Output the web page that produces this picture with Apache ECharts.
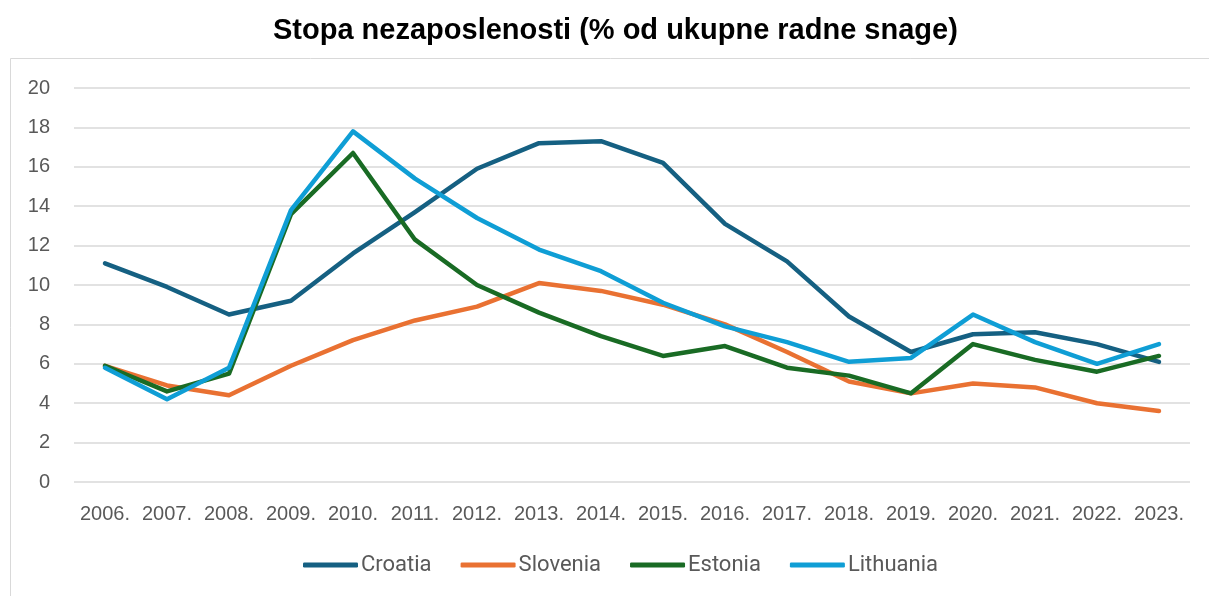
<!DOCTYPE html>
<html>
<head>
<meta charset="utf-8">
<script src="https://cdn.jsdelivr.net/npm/echarts@6/dist/echarts.min.js"></script>
<style>
html,body{margin:0;padding:0;background:#fff;}
#chart{width:1209px;height:596px;}
</style>
</head>
<body>
<div id="chart"></div>
<script>
const categories = ['2006.','2007.','2008.','2009.','2010.','2011.','2012.','2013.','2014.','2015.','2016.','2017.','2018.','2019.','2020.','2021.','2022.','2023.'];
const croatia   = [11.1, 9.9, 8.5, 9.2, 11.6, 13.7, 15.9, 17.2, 17.3, 16.2, 13.1, 11.2, 8.4, 6.6, 7.5, 7.6, 7.0, 6.1];
const slovenia  = [5.9, 4.9, 4.4, 5.9, 7.2, 8.2, 8.9, 10.1, 9.7, 9.0, 8.0, 6.6, 5.1, 4.5, 5.0, 4.8, 4.0, 3.6];
const estonia   = [5.9, 4.6, 5.5, 13.6, 16.7, 12.3, 10.0, 8.6, 7.4, 6.4, 6.9, 5.8, 5.4, 4.5, 7.0, 6.2, 5.6, 6.4];
const lithuania = [5.8, 4.2, 5.8, 13.8, 17.8, 15.4, 13.4, 11.8, 10.7, 9.1, 7.9, 7.1, 6.1, 6.3, 8.5, 7.1, 6.0, 7.0];
const yTicks = {min: 0, max: 20, interval: 2};

const colors = ['#156082', '#E97132', '#196B24', '#0F9ED5'];
const names = ['Croatia', 'Slovenia', 'Estonia', 'Lithuania'];
const dataSets = [croatia, slovenia, estonia, lithuania];

const chart = echarts.init(document.getElementById('chart'));
chart.setOption({
  animation: false,
  color: colors,
  title: {
    text: 'Stopa nezaposlenosti (% od ukupne radne snage)',
    left: 268,
    top: 11,
    textStyle: {fontFamily: 'Liberation Sans, Arial', fontWeight: 'bold', fontSize: 29, color: '#000'}
  },
  graphic: [{
    type: 'rect',
    shape: {x: 10.5, y: 58.5, width: 1220, height: 560},
    style: {fill: 'none', stroke: '#d9d9d9', lineWidth: 1},
    silent: true,
    z: -1
  }],
  grid: {left: 74, right: 19, top: 88, bottom: 114, containLabel: false},
  legend: {
    bottom: 15,
    left: 298,
    itemWidth: 55,
    itemHeight: 5,
    itemGap: 29,
    icon: 'roundRect',
    textStyle: {fontFamily: 'Roboto, Noto Sans', fontSize: 22, color: '#595959', padding: [0, 0, 0, -2]},
    data: names
  },
  xAxis: {
    type: 'category',
    data: categories,
    boundaryGap: true,
    axisLine: {show: false},
    axisTick: {show: false},
    axisLabel: {fontFamily: 'Liberation Sans, Arial', fontSize: 20, color: '#595959', margin: 22, interval: 0}
  },
  yAxis: {
    type: 'value',
    min: yTicks.min,
    max: yTicks.max,
    interval: yTicks.interval,
    axisLine: {show: false},
    axisTick: {show: false},
    splitLine: {lineStyle: {color: '#d9d9d9', width: 1.5}},
    axisLabel: {fontFamily: 'Liberation Sans, Arial', fontSize: 20, color: '#595959', margin: 24}
  },
  series: dataSets.map((d, i) => ({
    name: names[i],
    type: 'line',
    data: d,
    symbol: 'none',
    lineStyle: {width: 4.5, color: colors[i], cap: 'round', join: 'round'},
    itemStyle: {color: colors[i]}
  }))
});
</script>
</body>
</html>
